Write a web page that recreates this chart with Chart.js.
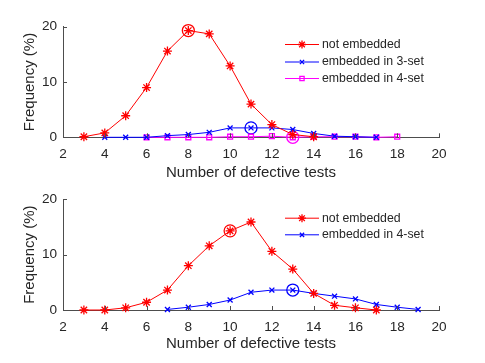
<!DOCTYPE html>
<html>
<head>
<meta charset="utf-8">
<script src="https://cdn.jsdelivr.net/npm/chart.js@4.4.1/dist/chart.umd.min.js"></script>
<style>
html, body { margin: 0; padding: 0; background: #fff; }
#wrap { position: relative; width: 485px; height: 363px; }
canvas { position: absolute; left: 0; }
</style>
</head>
<body>
<div id="wrap">
    <canvas id="graficoTop" width="485" height="182" style="top:0"></canvas>
    <canvas id="graficoBottom" width="485" height="181" style="top:182px"></canvas>
</div>
<script>
// Datos del panel superior
const topNotEmbX = [3, 4, 5, 6, 7, 8, 9, 10, 11, 12, 13, 14];
const topNotEmb = [0.1, 0.8, 3.9, 9.0, 15.6, 19.3, 18.7, 12.9, 6.0, 2.3, 0.5, 0.1];
const top3SetX = [4, 5, 6, 7, 8, 9, 10, 11, 12, 13, 14, 15, 16, 17];
const top3Set = [0, 0, 0, 0.3, 0.5, 0.9, 1.7, 1.7, 1.7, 1.4, 0.7, 0.2, 0.1, 0];
const top4SetX = [6, 7, 8, 9, 10, 11, 12, 13, 14, 15, 16, 17, 18];
const top4Set = [0, 0, 0, 0, 0.1, 0.1, 0.2, 0, 0.1, 0.1, 0.1, 0, 0.1];
const topMeans = [8, 11, 13]; // x marcado con círculo en cada serie

// Datos del panel inferior
const botNotEmbX = [3, 4, 5, 6, 7, 8, 9, 10, 11, 12, 13, 14, 15, 16, 17];
const botNotEmb = [0, 0, 0.4, 1.4, 3.6, 8.0, 11.6, 14.3, 15.9, 10.6, 7.4, 3.0, 0.85, 0.4, 0];
const bot4SetX = [7, 8, 9, 10, 11, 12, 13, 14, 15, 16, 17, 18, 19];
const bot4Set = [0.1, 0.5, 1.0, 1.8, 3.2, 3.6, 3.6, 3.0, 2.5, 2.0, 1.0, 0.5, 0.1];
const botMeans = [10, 13];

const xTicks = [2, 4, 6, 8, 10, 12, 14, 16, 18, 20];
const yTicks = [0, 10, 20];

const TEXT = '#262626';
const AXIS = '#4d4d4d';

function pts(xs, ys) {
    return xs.map((x, i) => ({ x: x, y: ys[i] }));
}

function serie(label, xs, ys, color, style, radius) {
    return {
        label: label,
        data: pts(xs, ys),
        borderColor: color,
        backgroundColor: 'rgba(0,0,0,0)',
        borderWidth: 1,
        pointStyle: style,
        pointRadius: radius,
        pointBorderWidth: 1.3,
        pointBorderColor: color,
        tension: 0,
        clip: false
    };
}

function meanMarker(xs, ys, xm, color) {
    const i = xs.indexOf(xm);
    return {
        label: '_mean',
        meanMarker: true,
        data: [{ x: xm, y: ys[i] }],
        showLine: false,
        pointStyle: 'circle',
        pointRadius: 6,
        pointBorderWidth: 1.3,
        pointBorderColor: color,
        pointBackgroundColor: 'rgba(0,0,0,0)',
        clip: false
    };
}

// Ticks hacia dentro y leyenda dibujada a mano
const estiloMatlab = {
    id: 'estiloMatlab',
    afterDraw(chart, args, opts) {
        const { ctx, chartArea: a, scales: { x, y } } = chart;
        ctx.save();
        ctx.strokeStyle = AXIS;
        ctx.lineWidth = 1;
        ctx.beginPath();
        xTicks.forEach(v => {
            const px = Math.round(x.getPixelForValue(v)) + 0.5;
            ctx.moveTo(px, a.bottom);
            ctx.lineTo(px, a.bottom - 4);
        });
        yTicks.forEach(v => {
            const py = Math.round(y.getPixelForValue(v)) + 0.5;
            ctx.moveTo(a.left, py);
            ctx.lineTo(a.left + 4, py);
        });
        ctx.stroke();

        // Leyenda
        let row = 0;
        chart.data.datasets.forEach(ds => {
            if (ds.meanMarker) return;
            const ly = opts.rows[row++];
            ctx.strokeStyle = ds.borderColor;
            ctx.lineWidth = 1;
            ctx.beginPath();
            ctx.moveTo(285, ly + 0.5);
            ctx.lineTo(319, ly + 0.5);
            ctx.stroke();
            ctx.lineWidth = 1.3;
            ctx.fillStyle = 'rgba(0,0,0,0)';
            Chart.helpers.drawPoint(ctx, { pointStyle: ds.pointStyle, radius: ds.pointRadius - 0.5, rotation: 0, borderWidth: 1.3 }, 302, ly + 0.5);
            ctx.fillStyle = TEXT;
            ctx.font = '12.3px "Liberation Sans", Arial, sans-serif';
            ctx.textBaseline = 'middle';
            ctx.textAlign = 'left';
            ctx.fillText(ds.label, 322, ly + 0.5);
        });
        ctx.restore();
    }
};

function opciones(cfg) {
    return {
        responsive: false,
        animation: false,
        layout: { padding: { left: 0, top: cfg.top, right: 46, bottom: 0 } },
        plugins: {
            legend: { display: false },
            tooltip: { enabled: false },
            estiloMatlab: { rows: cfg.rows }
        },
        scales: {
            x: {
                type: 'linear',
                min: 2,
                max: 20,
                afterBuildTicks: s => { s.ticks = xTicks.map(v => ({ value: v })); },
                afterFit: s => { s.height = cfg.xh; },
                ticks: {
                    color: TEXT,
                    font: { family: '"Liberation Sans", Arial, sans-serif', size: 13.6 },
                    padding: 9,
                    maxRotation: 0
                },
                grid: { display: false, drawTicks: false },
                border: { display: true, color: AXIS, width: 1 },
                title: {
                    display: true,
                    text: 'Number of defective tests',
                    color: TEXT,
                    font: { family: '"Liberation Sans", Arial, sans-serif', size: 15 },
                    padding: { top: 0, bottom: cfg.titlePad }
                }
            },
            y: {
                min: 0,
                max: 20,
                afterBuildTicks: s => { s.ticks = yTicks.map(v => ({ value: v })); },
                afterFit: s => { s.width = 63; },
                ticks: {
                    color: TEXT,
                    font: { family: '"Liberation Sans", Arial, sans-serif', size: 13.6 },
                    padding: 6
                },
                grid: { display: false, drawTicks: false },
                border: { display: true, color: AXIS, width: 1 },
                title: {
                    display: true,
                    text: 'Frequency (%)',
                    color: TEXT,
                    font: { family: '"Liberation Sans", Arial, sans-serif', size: 15 },
                    padding: { top: 21, bottom: 0 }
                }
            }
        }
    };
}

new Chart(document.getElementById('graficoTop'), {
    type: 'line',
    data: {
        datasets: [
            serie('not embedded', topNotEmbX, topNotEmb, '#ff0000', 'star', 4.5),
            serie('embedded in 3-set', top3SetX, top3Set, '#0000ff', 'crossRot', 3.5),
            serie('embedded in 4-set', top4SetX, top4Set, '#ff00ff', 'rect', 3.5),
            meanMarker(topNotEmbX, topNotEmb, topMeans[0], '#ff0000'),
            meanMarker(top3SetX, top3Set, topMeans[1], '#0000ff'),
            meanMarker(top4SetX, top4Set, topMeans[2], '#ff00ff')
        ]
    },
    options: opciones({ top: 26.7, xh: 44.7, titlePad: 0, rows: [44, 61.5, 78] }),
    plugins: [estiloMatlab]
});

new Chart(document.getElementById('graficoBottom'), {
    type: 'line',
    data: {
        datasets: [
            serie('not embedded', botNotEmbX, botNotEmb, '#ff0000', 'star', 4.5),
            serie('embedded in 4-set', bot4SetX, bot4Set, '#0000ff', 'crossRot', 3.5),
            meanMarker(botNotEmbX, botNotEmb, botMeans[0], '#ff0000'),
            meanMarker(bot4SetX, bot4Set, botMeans[1], '#0000ff')
        ]
    },
    options: opciones({ top: 17.3, xh: 53, titlePad: 10.5, rows: [35.7, 52.3] }),
    plugins: [estiloMatlab]
});
</script>
</body>
</html>
